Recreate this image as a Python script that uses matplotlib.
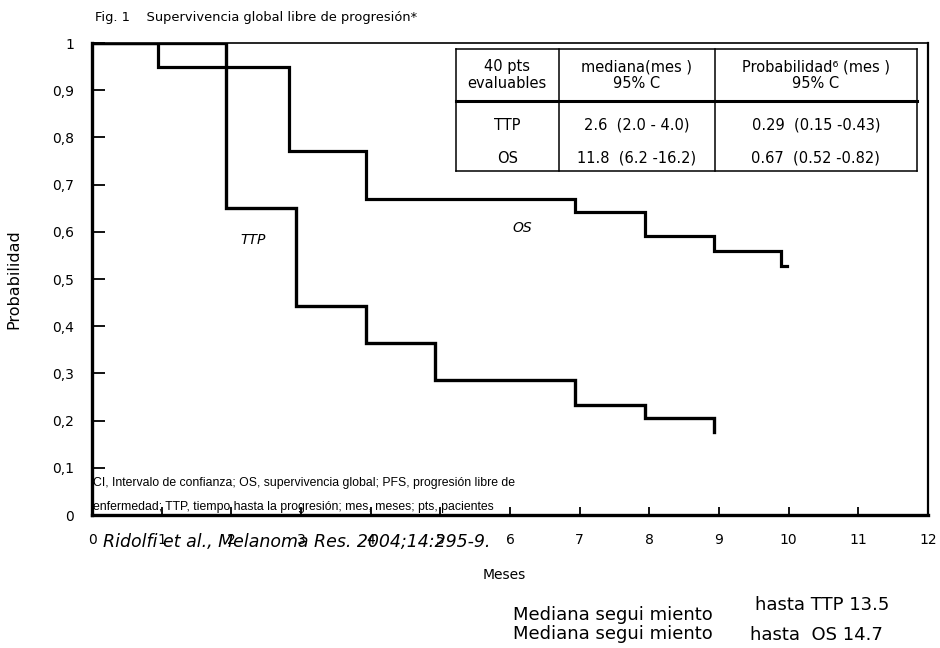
import matplotlib.pyplot as plt
import numpy as np

# Kaplan-Meier curves (months, probability)
ttp_months = [0, 1.93, 2.93, 3.93, 4.93, 6.93, 7.93, 8.93]
ttp_prob = [1.0, 0.65, 0.443, 0.365, 0.286, 0.233, 0.206, 0.176]
os_months = [0, 0.94, 2.83, 3.93, 6.93, 7.93, 8.93, 9.89, 9.98]
os_prob = [1.0, 0.95, 0.771, 0.669, 0.643, 0.591, 0.56, 0.527, 0.527]

x_ticks = list(range(0, 13))
y_ticks = [0, 0.1, 0.2, 0.3, 0.4, 0.5, 0.6, 0.7, 0.8, 0.9, 1]

table_header = ["40 pts\nevaluables", "mediana(mes )\n95% C", "Probabilidad\u2076 (mes )\n95% C"]
table_rows = [["TTP", "2.6  (2.0 - 4.0)", "0.29  (0.15 -0.43)"],
              ["OS", "11.8  (6.2 -16.2)", "0.67  (0.52 -0.82)"]]

footnote = ["CI, Intervalo de confianza; OS, supervivencia global; PFS, progresión libre de",
            "enfermedad; TTP, tiempo hasta la progresión; mes, meses; pts, pacientes"]
citation = "Ridolfi et al., Melanoma Res. 2004;14:295-9."

plt.rcParams['font.family'] = ['DejaVu Sans']

fig = plt.figure(figsize=(9.4, 6.48), dpi=100)
ax = fig.add_axes([0.0979, 0.2052, 0.8894, 0.7284])

ax.step(ttp_months, ttp_prob, where='post', color='black', lw=2.4, solid_joinstyle='miter')
ax.step(os_months, os_prob, where='post', color='black', lw=2.3, solid_joinstyle='miter')

ax.text(2.31, 0.583, "TTP", style='italic', fontsize=10, ha='center', va='center')
ax.text(6.17, 0.608, "OS", style='italic', fontsize=10, ha='center', va='center')

ax.set_xlim(0, 12)
ax.set_ylim(0, 1)
ax.set_xticks(x_ticks)
ax.set_yticks(y_ticks)
ax.set_yticklabels([f"{v:g}".replace('.', ',') for v in y_ticks])
ax.tick_params(axis='y', direction='in', length=9, width=1.3, pad=13, labelsize=10)
ax.tick_params(axis='x', direction='in', length=6, width=1.3, pad=13, labelsize=10)

ax.spines['left'].set_linewidth(2.4)
ax.spines['bottom'].set_linewidth(2.4)
ax.spines['top'].set_linewidth(1.2)
ax.spines['right'].set_linewidth(1.6)

ax.set_xlabel("Meses", fontsize=10)
ax.xaxis.set_label_coords(0.493, -0.112)
ax.set_ylabel("Probabilidad", fontsize=11.5)
ax.yaxis.set_label_coords(-0.084, 0.5)

# summary table in the upper right
col_edges = [5.22, 6.70, 8.94, 11.84]
tab_top, head_bot, tab_bot = 0.987, 0.877, 0.729
row_y = [0.826, 0.756]
lw_t = 1.1
ax.plot([col_edges[0], col_edges[-1]], [tab_top, tab_top], color='black', lw=lw_t)
ax.plot([col_edges[0], col_edges[-1]], [tab_bot, tab_bot], color='black', lw=lw_t)
ax.plot([col_edges[0], col_edges[-1]], [head_bot, head_bot], color='black', lw=2.2)
for xe in col_edges:
    ax.plot([xe, xe], [tab_bot, tab_top], color='black', lw=lw_t)
for i, h in enumerate(table_header):
    xc = (col_edges[i] + col_edges[i + 1]) / 2
    ax.text(xc, (tab_top + head_bot) / 2, h, ha='center', va='center',
            fontsize=10.5, linespacing=1.15)
for r, row in enumerate(table_rows):
    for i, cell in enumerate(row):
        xc = (col_edges[i] + col_edges[i + 1]) / 2
        ax.text(xc, row_y[r], cell, ha='center', va='center', fontsize=10.5)

# abbreviations inside the plot
ax.text(0.02, 0.068, footnote[0], fontsize=8.8, va='center',
        family=['Liberation Sans', 'DejaVu Sans'])
ax.text(0.02, 0.017, footnote[1], fontsize=8.8, va='center',
        family=['Liberation Sans', 'DejaVu Sans'])

ax.text(0.16, -0.057, citation, style='italic', fontsize=12.5, va='center', clip_on=False)

fig.text(95 / 940, 1 - 17 / 648, "Fig. 1    Supervivencia global libre de progresión*",
         fontsize=9.4, va='center')

fig.text(755 / 940, 1 - 605 / 648, "hasta TTP 13.5", fontsize=13, va='center')
fig.text(513 / 940, 1 - 615 / 648, "Mediana segui miento", fontsize=13, va='center')
fig.text(513 / 940, 1 - 634 / 648, "Mediana segui miento", fontsize=13, va='center')
fig.text(750 / 940, 1 - 635 / 648, "hasta  OS 14.7", fontsize=13, va='center')

fig.savefig("out.png", dpi=100)
